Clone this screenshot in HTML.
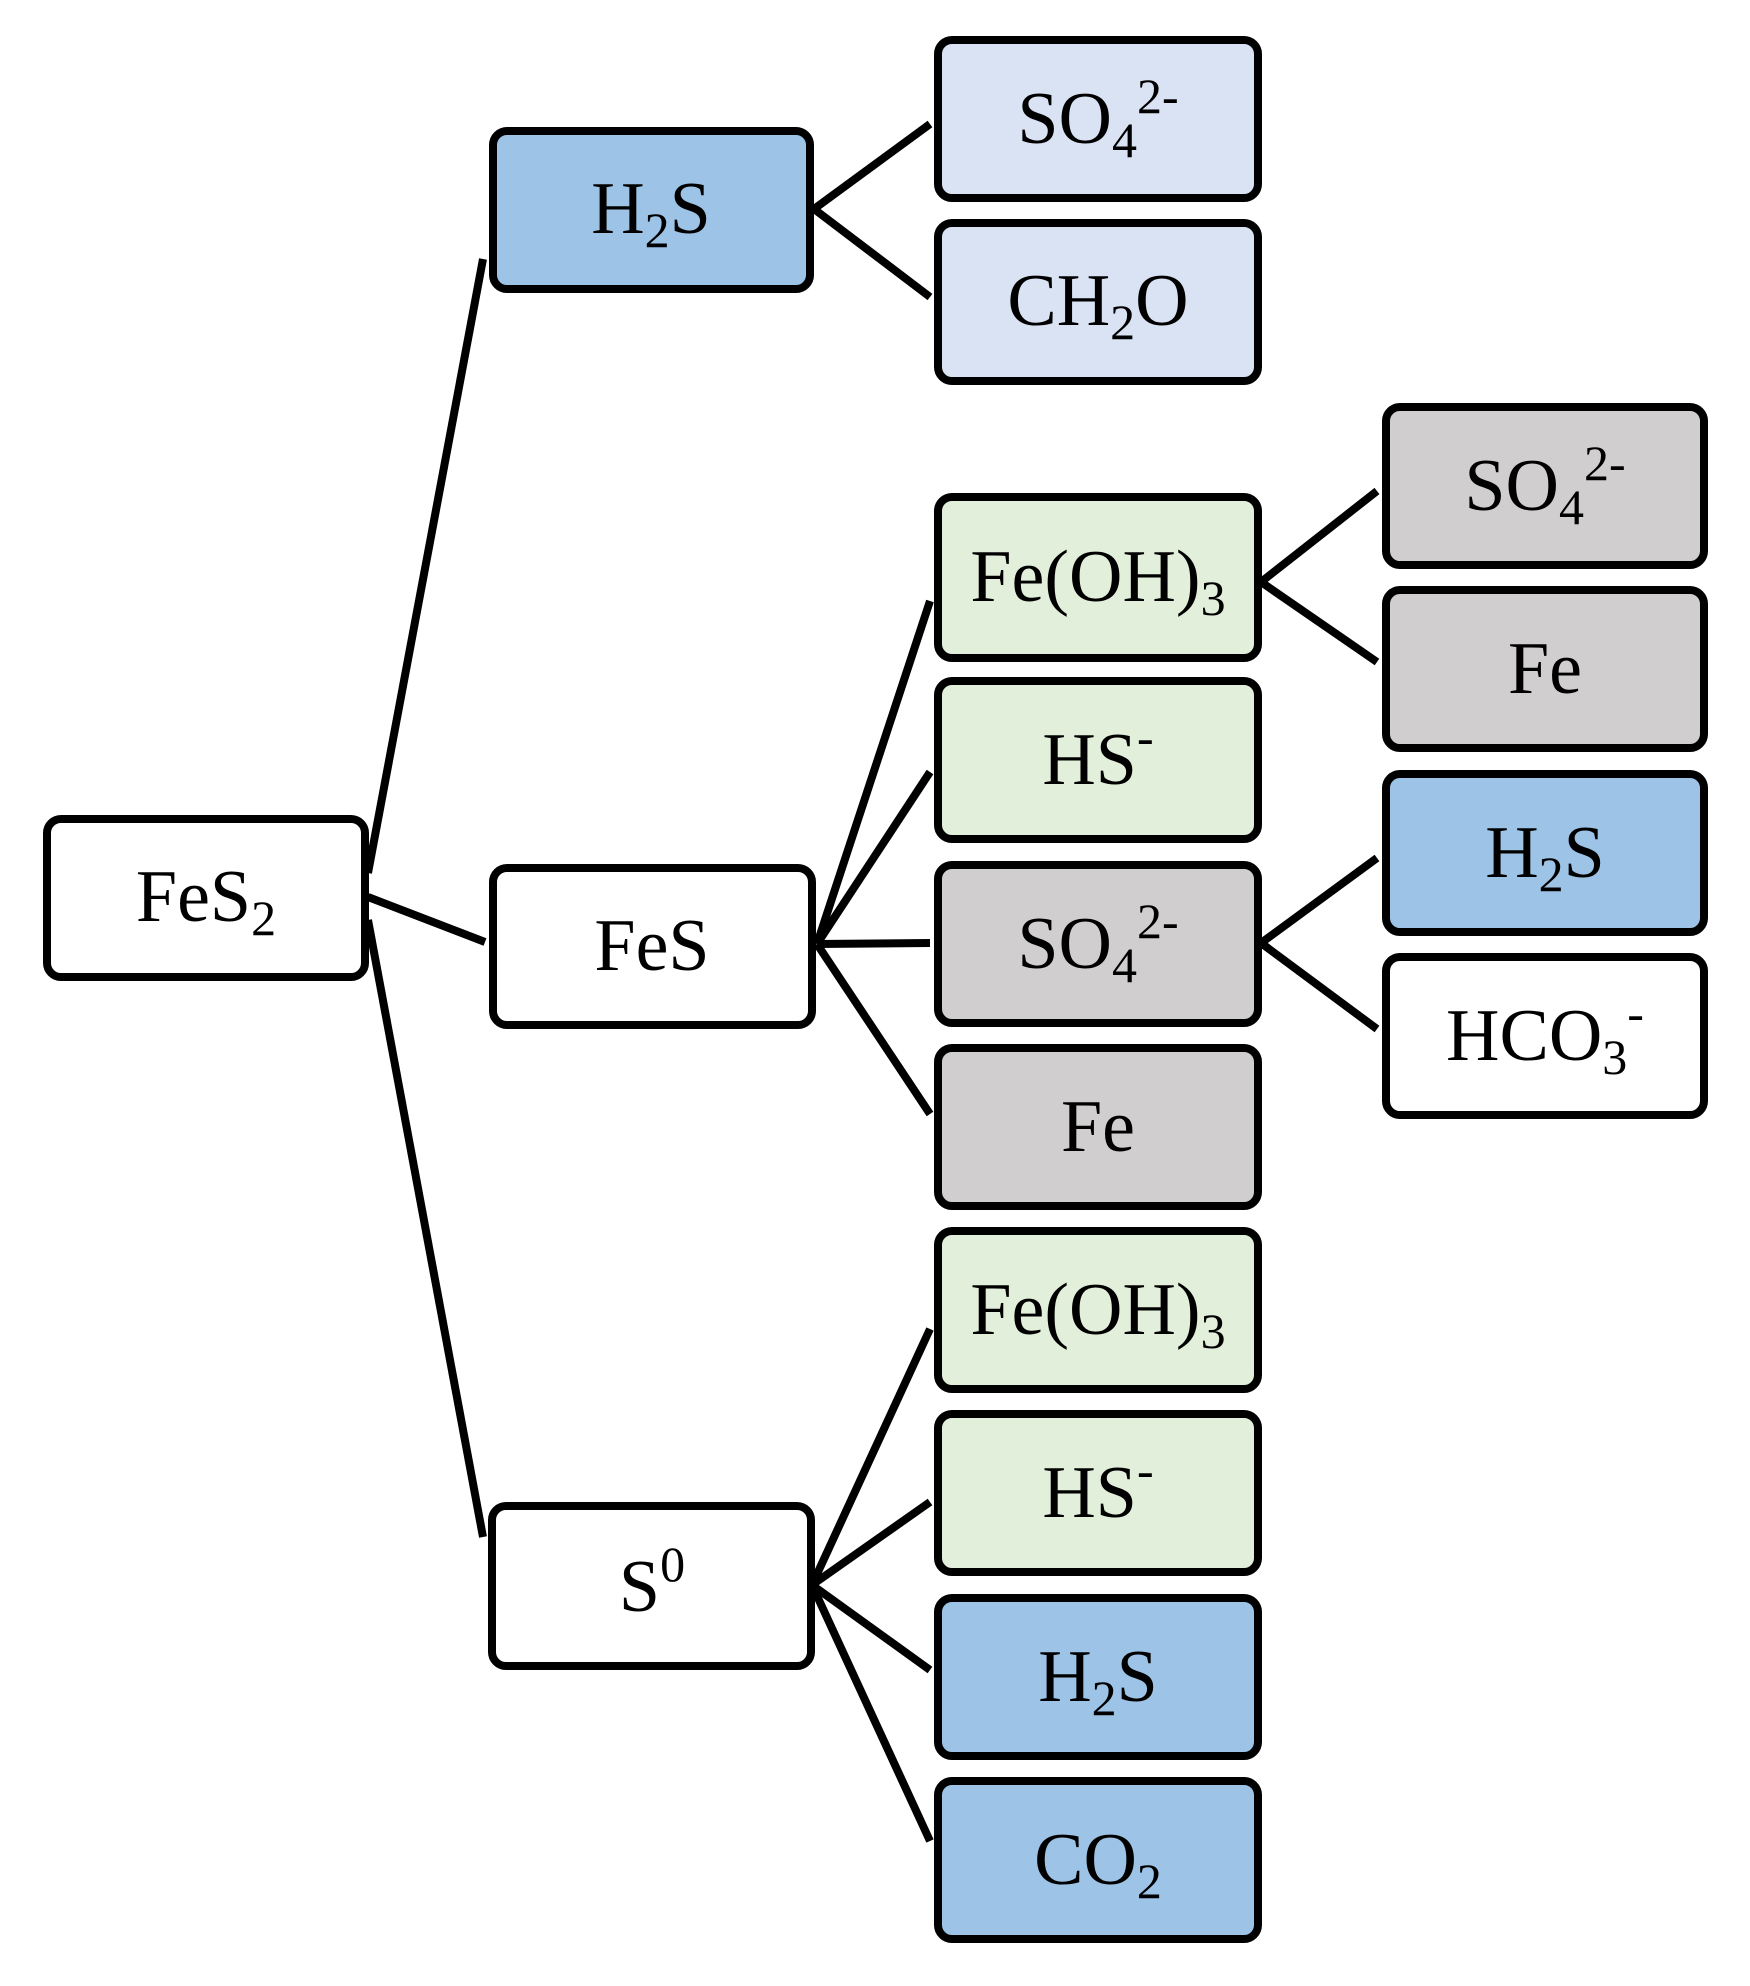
<!DOCTYPE html>
<html><head><meta charset="utf-8"><style>
html,body{margin:0;padding:0;background:#fff}
svg{display:block}
text{font-family:"Liberation Serif",serif;font-size:74px;fill:#000}
</style></head><body>
<svg width="1750" height="1986" viewBox="0 0 1750 1986" xmlns="http://www.w3.org/2000/svg">
<g stroke="#000" stroke-width="8" fill="none">
<line x1="368" y1="873" x2="483" y2="259"/>
<line x1="368" y1="897" x2="485" y2="942"/>
<line x1="368" y1="920" x2="483" y2="1537"/>
<line x1="814" y1="209" x2="930" y2="124"/>
<line x1="814" y1="209" x2="930" y2="297"/>
<line x1="817" y1="944" x2="930" y2="601"/>
<line x1="817" y1="944" x2="930" y2="772"/>
<line x1="817" y1="944" x2="930" y2="943"/>
<line x1="817" y1="944" x2="930" y2="1114"/>
<line x1="812" y1="1585" x2="930" y2="1329"/>
<line x1="812" y1="1585" x2="930" y2="1502"/>
<line x1="812" y1="1585" x2="930" y2="1670"/>
<line x1="812" y1="1585" x2="930" y2="1841"/>
<line x1="1261" y1="582" x2="1377" y2="491"/>
<line x1="1261" y1="582" x2="1377" y2="662"/>
<line x1="1261" y1="943" x2="1377" y2="858"/>
<line x1="1261" y1="943" x2="1377" y2="1029"/>
</g>
<g stroke="#000" stroke-width="8">
<rect x="47" y="819" width="318" height="158" rx="14" fill="#fff"/>
<rect x="493" y="131" width="317" height="158" rx="14" fill="#9dc3e6"/>
<rect x="493" y="868" width="319" height="157" rx="14" fill="#fff"/>
<rect x="492" y="1506" width="319" height="160" rx="14" fill="#fff"/>
<rect x="938" y="40" width="320" height="158" rx="14" fill="#dae3f3"/>
<rect x="938" y="223" width="320" height="158" rx="14" fill="#dae3f3"/>
<rect x="938" y="497" width="320" height="161" rx="14" fill="#e2efda"/>
<rect x="938" y="681" width="320" height="158" rx="14" fill="#e2efda"/>
<rect x="938" y="865" width="320" height="158" rx="14" fill="#d0cece"/>
<rect x="938" y="1048" width="320" height="158" rx="14" fill="#d0cece"/>
<rect x="938" y="1231" width="320" height="158" rx="14" fill="#e2efda"/>
<rect x="938" y="1414" width="320" height="158" rx="14" fill="#e2efda"/>
<rect x="938" y="1598" width="320" height="158" rx="14" fill="#9dc3e6"/>
<rect x="938" y="1781" width="320" height="158" rx="14" fill="#9dc3e6"/>
<rect x="1386" y="407" width="318" height="158" rx="14" fill="#d0cece"/>
<rect x="1386" y="590" width="318" height="158" rx="14" fill="#d0cece"/>
<rect x="1386" y="774" width="318" height="158" rx="14" fill="#9dc3e6"/>
<rect x="1386" y="957" width="318" height="158" rx="14" fill="#fff"/>
</g>
<g text-anchor="middle">
<text x="206" y="921">FeS<tspan font-size="50" dy="14">2</tspan></text>
<text x="651" y="233">H<tspan font-size="50" dy="14">2</tspan><tspan dy="-14">S</tspan></text>
<text x="652" y="970">FeS</text>
<text x="652" y="1611">S<tspan font-size="50" dy="-30">0</tspan></text>
<text x="1098" y="143">SO<tspan font-size="50" dy="14">4</tspan><tspan font-size="50" dy="-44">2-</tspan></text>
<text x="1098" y="325">CH<tspan font-size="50" dy="14">2</tspan><tspan dy="-14">O</tspan></text>
<text x="1098" y="601">Fe(OH)<tspan font-size="50" dy="14">3</tspan></text>
<text x="1098" y="784">HS<tspan font-size="50" dy="-30">-</tspan></text>
<text x="1098" y="968">SO<tspan font-size="50" dy="14">4</tspan><tspan font-size="50" dy="-44">2-</tspan></text>
<text x="1098" y="1151">Fe</text>
<text x="1098" y="1334">Fe(OH)<tspan font-size="50" dy="14">3</tspan></text>
<text x="1098" y="1517">HS<tspan font-size="50" dy="-30">-</tspan></text>
<text x="1098" y="1701">H<tspan font-size="50" dy="14">2</tspan><tspan dy="-14">S</tspan></text>
<text x="1098" y="1884">CO<tspan font-size="50" dy="14">2</tspan></text>
<text x="1545" y="510">SO<tspan font-size="50" dy="14">4</tspan><tspan font-size="50" dy="-44">2-</tspan></text>
<text x="1545" y="693">Fe</text>
<text x="1545" y="877">H<tspan font-size="50" dy="14">2</tspan><tspan dy="-14">S</tspan></text>
<text x="1545" y="1060">HCO<tspan font-size="50" dy="14">3</tspan><tspan font-size="50" dy="-44">-</tspan></text>
</g>
</svg>
</body></html>
